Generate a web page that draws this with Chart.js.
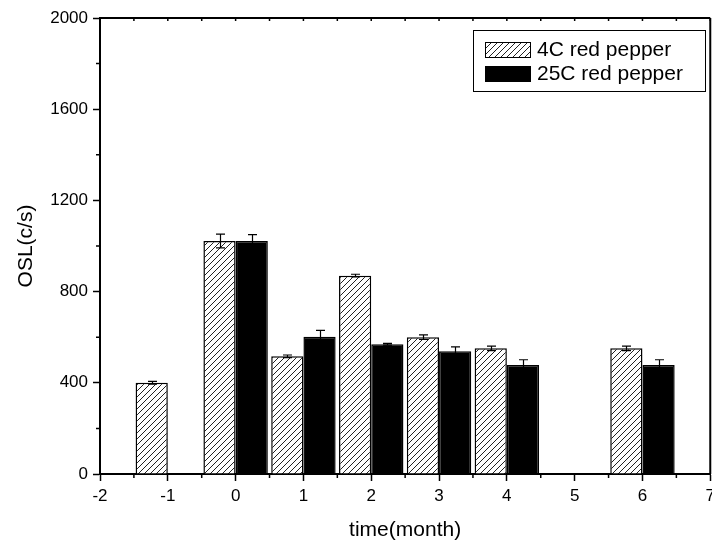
<!DOCTYPE html>
<html>
<head>
<meta charset="utf-8">
<script src="https://cdn.jsdelivr.net/npm/chart.js@4"></script>
<style>
  html, body { margin: 0; padding: 0; background: #fff; overflow: hidden; }
  #wrap { width: 720px; height: 545px; }
</style>
</head>
<body>
<div id="wrap"><canvas id="oslChart" width="720" height="545"></canvas></div>
<script>
// months on the x axis, OSL counts per storage temperature
const months = [-1, 0, 1, 2, 3, 4, 6];
const osl4C = [400, 1022, 516, 870, 600, 551, 551];
const osl25C = [null, 1022, 602, 569, 538, 478, 478];
const err4C = [6, 30, 6, 6, 10, 10, 10];
const err25C = [null, 28, 28, 4, 20, 23, 23];
const seriesLabels = ["4C red pepper", "25C red pepper"];

const FONT = "'Liberation Sans', Arial, Helvetica, sans-serif";

function makeHatch() {
  const c = document.createElement("canvas");
  c.width = 6;
  c.height = 6;
  const g = c.getContext("2d");
  g.fillStyle = "#fff";
  g.fillRect(0, 0, 6, 6);
  g.strokeStyle = "#222";
  g.lineWidth = 1;
  g.beginPath();
  g.moveTo(0, 6); g.lineTo(6, 0);
  g.moveTo(-1, 1); g.lineTo(1, -1);
  g.moveTo(5, 7); g.lineTo(7, 5);
  g.stroke();
  return g.createPattern(c, "repeat");
}

function toPoints(vals) {
  const pts = [];
  months.forEach((m, i) => {
    if (vals[i] !== null) pts.push({ x: m, y: vals[i], i });
  });
  return pts;
}

const hatch = makeHatch();

// error bars on top of each bar
const errorBarsPlugin = {
  id: "errorBars",
  afterDatasetsDraw(chart) {
    const { ctx } = chart;
    const y = chart.scales.y;
    const errs = [err4C, err25C];
    ctx.save();
    ctx.strokeStyle = "#000";
    ctx.lineWidth = 1.2;
    chart.data.datasets.forEach((ds, d) => {
      const meta = chart.getDatasetMeta(d);
      meta.data.forEach((bar, k) => {
        const p = ds.data[k];
        const e = errs[d][p.i];
        if (!e) return;
        const yt = y.getPixelForValue(p.y + e);
        const yb = y.getPixelForValue(p.y - e);
        const cx = Math.round(bar.x) + 0.5;
        ctx.beginPath();
        ctx.moveTo(cx, yt); ctx.lineTo(cx, yb);
        ctx.moveTo(cx - 4.5, yt); ctx.lineTo(cx + 4.5, yt);
        ctx.moveTo(cx - 4.5, yb); ctx.lineTo(cx + 4.5, yb);
        ctx.stroke();
      });
    });
    ctx.restore();
  },
};

// top spine, minor ticks and the boxed legend
const framePlugin = {
  id: "frame",
  afterDraw(chart) {
    const { ctx, chartArea: a } = chart;
    const x = chart.scales.x;
    const y = chart.scales.y;
    ctx.save();
    ctx.strokeStyle = "#000";
    ctx.lineWidth = 2;
    ctx.beginPath();
    ctx.moveTo(a.left, a.top); ctx.lineTo(a.right, a.top);
    ctx.moveTo(a.right, a.top); ctx.lineTo(a.right, a.bottom);
    ctx.stroke();

    ctx.lineWidth = 1.5;
    ctx.beginPath();
    for (let v = -1.5; v < 7; v += 1) {
      const px = x.getPixelForValue(v);
      ctx.moveTo(px, a.bottom); ctx.lineTo(px, a.bottom + 4);
    }
    for (let v = -2; v <= 7; v += 0.5) {
      const px = x.getPixelForValue(v);
      ctx.moveTo(px, a.top); ctx.lineTo(px, a.top + 3);
    }
    for (let v = 200; v < 2000; v += 400) {
      const py = y.getPixelForValue(v);
      ctx.moveTo(a.left, py); ctx.lineTo(a.left - 4, py);
    }
    ctx.stroke();

    // legend box
    ctx.lineWidth = 1;
    ctx.strokeRect(473.5, 30.5, 232, 61);
    const fills = chart.data.datasets.map((ds) => ds.backgroundColor);
    const rows = [42, 66];
    ctx.font = `21px ${FONT}`;
    ctx.textBaseline = "middle";
    ctx.fillStyle = "#000";
    seriesLabels.forEach((lab, i) => {
      ctx.fillStyle = fills[i];
      ctx.fillRect(485, rows[i], 46, 16);
      ctx.strokeRect(485.5, rows[i] + 0.5, 45, 15);
      ctx.fillStyle = "#000";
      ctx.fillText(lab, 537, rows[i] + 8);
    });
    ctx.restore();
  },
};

const el = document.getElementById("oslChart");

new Chart(el, {
  type: "bar",
  plugins: [errorBarsPlugin, framePlugin],
  data: {
    datasets: [
      {
        label: seriesLabels[0],
        data: toPoints(osl4C),
        backgroundColor: hatch,
        borderColor: "#000",
        borderWidth: 1.5,
      },
      {
        label: seriesLabels[1],
        data: toPoints(osl25C),
        backgroundColor: "#000",
        borderColor: "#000",
        borderWidth: 1.5,
      },
    ],
  },
  options: {
    responsive: false,
    animation: false,
    devicePixelRatio: 1,
    categoryPercentage: 0.95,
    barPercentage: 1,
    layout: { padding: { top: 18, right: 7, left: 0, bottom: 0 } },
    plugins: {
      legend: { display: false },
      tooltip: { enabled: false },
    },
    scales: {
      x: {
        type: "linear",
        min: -2,
        max: 7,
        offset: false,
        afterFit: (s) => { s.height = 71; },
        ticks: {
          stepSize: 1,
          color: "#000",
          padding: 5,
          maxRotation: 0,
          callback: (v) => String(v),
          font: { family: FONT, size: 17 },
        },
        grid: {
          offset: false,
          drawOnChartArea: false,
          tickLength: 7,
          tickWidth: 1.5,
          tickColor: "#000",
        },
        border: { display: true, color: "#000", width: 2 },
        title: {
          display: true,
          text: "time(month)",
          color: "#000",
          font: { family: FONT, size: 21 },
          padding: { top: 0, bottom: 2 },
        },
      },
      y: {
        min: 0,
        max: 2000,
        afterFit: (s) => { s.width = 100; },
        ticks: {
          stepSize: 400,
          color: "#000",
          padding: 5,
          callback: (v) => String(v),
          font: { family: FONT, size: 17 },
        },
        grid: {
          drawOnChartArea: false,
          tickLength: 7,
          tickWidth: 1.5,
          tickColor: "#000",
        },
        border: { display: true, color: "#000", width: 2 },
        title: {
          display: true,
          text: "OSL(c/s)",
          color: "#000",
          font: { family: FONT, size: 21 },
          padding: { top: 14, bottom: 0 },
        },
      },
    },
  },
});
</script>
</body>
</html>
